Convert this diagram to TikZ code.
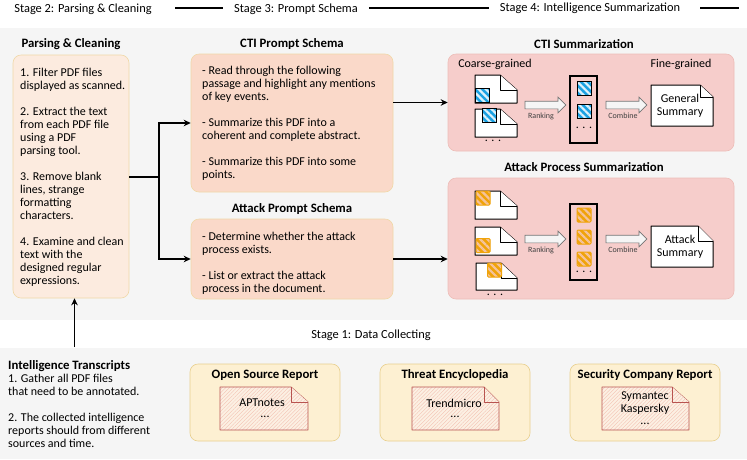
\documentclass[tikz,border=0pt]{standalone}
\usepackage{fontspec}
\setmainfont{Carlito}
\usepackage{tikz}
\usetikzlibrary{positioning,shapes.arrows,patterns.meta,arrows.meta}

\definecolor{panelgray}{HTML}{F5F5F5}
\definecolor{parsefill}{HTML}{FCEBDF}
\definecolor{promptfill}{HTML}{FAD9C9}
\definecolor{boxedge}{HTML}{F0D8A8}
\definecolor{sumfill}{HTML}{F6CDCB}
\definecolor{sumedge}{HTML}{EDBDB8}
\definecolor{srcfill}{HTML}{FDF0D2}
\definecolor{srcedge}{HTML}{E8CF8D}
\definecolor{docred}{HTML}{B85450}
\definecolor{hatchred}{HTML}{F3BFB0}
\definecolor{tagblue}{HTML}{1BA1E2}
\definecolor{tagorange}{HTML}{F0A30A}

\tikzset{
  roundbox/.style={draw, rounded corners=8pt, line width=0.6pt},
  parsebox/.style={roundbox, draw=boxedge, fill=parsefill, minimum width=116pt, minimum height=243pt},
  promptbox/.style={roundbox, draw=boxedge, fill=promptfill, minimum width=202pt},
  sumbox/.style={roundbox, draw=sumedge, fill=sumfill, minimum width=286pt},
  srcbox/.style={roundbox, draw=srcedge, fill=srcfill, minimum width=150pt, minimum height=77pt},
  bodytext/.style={align=left, font=\fontsize{12}{13}\selectfont, inner sep=0pt},
  midtext/.style={align=center, font=\fontsize{12}{12.5}\selectfont, inner sep=0pt},
  title/.style={font=\fontsize{12.8}{13}\selectfont\bfseries, inner sep=0pt},
  stagetext/.style={font=\fontsize{12.4}{13}\selectfont, inner sep=0pt},
  smalltext/.style={font=\fontsize{8}{8}\selectfont, text=black!75, inner sep=0pt},
  link/.style={line width=1.2pt},
  whitedoc/.style={draw=black, fill=white, line width=1pt, line join=round},
  reddoc/.style={draw=docred, line width=0.9pt, line join=round, preaction={fill=srcfill!70!hatchred!50!white},
    pattern={Lines[angle=45, distance=2.6pt, line width=0.35pt]}, pattern color=hatchred},
  bluetag/.style={draw=black, line width=1pt, minimum size=14pt, inner sep=0pt, preaction={fill=tagblue},
    pattern={Lines[angle=-45, distance=5pt, line width=2.2pt]}, pattern color=white!85!tagblue},
  orangetag/.style={draw=tagorange, line width=1pt, rounded corners=1pt, minimum size=14pt, inner sep=0pt, preaction={fill=tagorange},
    pattern={Lines[angle=-45, distance=5pt, line width=2.2pt]}, pattern color=tagorange!25!sumfill},
  listbox/.style={draw=black, line width=1.1pt, minimum width=27pt},
  flowarrow/.style={single arrow, draw=black!55, fill=panelgray, line width=0.7pt, minimum height=41pt,
    minimum width=15pt, single arrow head extend=4pt, single arrow tip angle=90, single arrow head indent=0pt, inner sep=3.5pt},
}

% page with a folded corner: style, left, top, right, bottom, fold x, fold y
\newcommand{\docpage}[7]{
  \draw[#1] (#2,#3) -- (#6,#3) -- (#4,#7) -- (#4,#5) -- (#2,#5) -- cycle;
  \draw[#1, preaction={}] (#6,#3) -- (#6,#7) -- (#4,#7);
}

\begin{document}
\begin{tikzpicture}[x=1pt, y=-1pt, >={Stealth[length=7pt, width=6.5pt]}]
  \useasboundingbox (0,0) rectangle (747,459);
  \fill[panelgray] (0,28) rectangle (747,320);
  \fill[panelgray] (0,348) rectangle (747,459);

  % stages
  \node[stagetext] (stage2) at (83,9) {Stage 2: Parsing \& Cleaning};
  \node[stagetext] (stage3) at (296,9) {Stage 3: Prompt Schema};
  \node[stagetext] (stage4) at (590,8) {Stage 4: Intelligence Summarization};
  \node[stagetext] (stage1) at (371,335) {Stage 1: Data Collecting};
  \coordinate (stageend) at (739,8);
  \draw[link] (175,8) -- ([xshift=-11pt]stage3.west |- 0,8);
  \draw[link] ([xshift=11pt]stage3.east |- 0,8) -- ([xshift=-11pt]stage4.west |- 0,8);
  \draw[link] ([xshift=20pt]stage4.east |- 0,8) -- (stageend);

  % parsing
  \node[title] (parsetitle) at (71,44) {Parsing \& Cleaning};
  \node[roundbox, parsebox] (parse) at (71,176.5) {};
  \node[bodytext, anchor=north west] (parsetext) at (20,67.5) {1. Filter PDF files\\displayed as scanned.\\[13pt]
    2. Extract the text\\from each PDF file\\using a PDF\\parsing tool.\\[13pt]
    3. Remove blank\\lines, strange\\formatting\\characters.\\[13pt]
    4. Examine and clean\\text with the\\designed regular\\expressions.};

  % prompts
  \node[title] (ctititle) at (292,44) {CTI Prompt Schema};
  \node[promptbox, minimum height=138pt] (ctiprompt) at (292,123) {};
  \node[bodytext, anchor=north west] (ctitext) at (202,66) {- Read through the following\\passage and highlight any mentions\\of key events.\\[13pt]
    - Summarize this PDF into a\\coherent and complete abstract.\\[13pt]
    - Summarize this PDF into some\\points.};
  \node[title] (attacktitle) at (292,209) {Attack Prompt Schema};
  \node[promptbox, minimum height=80pt] (attackprompt) at (292,259) {};
  \node[bodytext, anchor=north west] (attacktext) at (202,232) {- Determine whether the attack\\process exists.\\[13pt]
    - List or extract the attack\\process in the document.};

  % CTI summary
  \node[title] (ctisumtitle) at (584,44) {CTI Summarization};
  \node[sumbox, minimum height=97pt] (ctisum) at (591,102.5) {};
  \node[bodytext] (coarse) at (495,64) {Coarse-grained};
  \node[bodytext] (fine) at (681,64) {Fine-grained};
  \docpage{whitedoc}{475}{75}{517}{103}{500}{90}
  \docpage{whitedoc}{475}{109}{517}{137}{500}{124}
  \node[bluetag] (ctitag1) at (482,95) {};
  \node[bluetag] (ctitag2) at (489,115.5) {};
  \node[midtext] (ctidots) at (493,141) {. . .};
  \node[listbox, minimum height=67pt] (ctilist) at (583.5,109.5) {};
  \node[bluetag] (ctilist1) at (584,88) {};
  \node[bluetag] (ctilist2) at (584,111) {};
  \node[midtext] (ctilistdots) at (584,128) {. . .};
  \node[flowarrow] (ctirank) at (543.5,105) {};
  \node[smalltext] (ctiranklabel) at (541,116) {Ranking};
  \node[flowarrow] (cticomb) at (624.5,105) {};
  \node[smalltext] (cticomblabel) at (623,116) {Combine};
  \docpage{whitedoc}{651}{85}{713}{126}{700}{97}
  \node[midtext] (general) at (680,106) {General\\Summary};

  % attack summary
  \node[title] (attacksumtitle) at (584,167) {Attack Process Summarization};
  \node[sumbox, minimum height=121pt] (attacksum) at (591,238.5) {};
  \docpage{whitedoc}{475}{191}{517}{219}{500}{206}
  \docpage{whitedoc}{475}{227}{517}{255}{500}{242}
  \docpage{whitedoc}{476}{263}{517}{290}{501}{278}
  \node[orangetag] (attacktag1) at (483,198) {};
  \node[orangetag] (attacktag2) at (483,245.5) {};
  \node[orangetag] (attacktag3) at (494.5,270) {};
  \node[midtext] (attackdots) at (495,295) {. . .};
  \node[listbox, minimum height=76pt] (attacklist) at (583.5,242) {};
  \node[orangetag] (attacklist1) at (584,215) {};
  \node[orangetag] (attacklist2) at (584,237) {};
  \node[orangetag] (attacklist3) at (584,259) {};
  \node[midtext] (attacklistdots) at (584,272) {. . .};
  \node[flowarrow] (attackrank) at (543.5,239) {};
  \node[smalltext] (attackranklabel) at (541,250) {Ranking};
  \node[flowarrow] (attackcomb) at (624.5,239) {};
  \node[smalltext] (attackcomblabel) at (623,250) {Combine};
  \docpage{whitedoc}{651}{226}{713}{267}{698}{241}
  \node[midtext] (attackdoc) at (680,247) {Attack\\Summary};

  % intelligence sources
  \node[bodytext, anchor=north west] (transcripts) at (8,360) {\textbf{\fontsize{12.8}{13}\selectfont Intelligence Transcripts}\\1. Gather all PDF files\\that need to be annotated.\\[13pt]
    2. The collected intelligence\\reports should from different\\sources and time.};
  \node[srcbox] (open) at (265,402.5) {};
  \node[title] (opentitle) at (265,375) {Open Source Report};
  \docpage{reddoc}{220}{387}{308}{430}{291}{402}
  \node[midtext] (apt) at (262,403) {APTnotes};
  \node[midtext] (aptdots) at (265,417) {...};
  \node[srcbox] (threat) at (455,402.5) {};
  \node[title] (threattitle) at (455,375) {Threat Encyclopedia};
  \docpage{reddoc}{412}{387}{499}{430}{484}{402}
  \node[midtext] (trend) at (454,403) {Trendmicro};
  \node[midtext] (trenddots) at (455,417) {...};
  \node[srcbox] (security) at (645,402.5) {};
  \node[title] (securitytitle) at (645,375) {Security Company Report};
  \docpage{reddoc}{602}{387}{689}{430}{672}{402}
  \node[midtext] (vendors) at (645,403) {Symantec\\Kaspersky};
  \node[midtext] (vendordots) at (645,424) {...};

  % links
  \coordinate (split) at (159,177);
  \coordinate (grayedge) at (74.5,347);
  \draw[link] (parse.east |- split) -- (split);
  \draw[link, ->] (split) |- (ctiprompt.west);
  \draw[link, ->] (split) |- (attackprompt.west);
  \draw[link, ->] (ctiprompt.east |- ctisum.west) -- (ctisum.west);
  \draw[link, ->] (attackprompt.east) -- (attackprompt.east -| attacksum.west);
  \draw[link, ->] (grayedge) -- (grayedge |- parse.south);
\end{tikzpicture}
\end{document}
